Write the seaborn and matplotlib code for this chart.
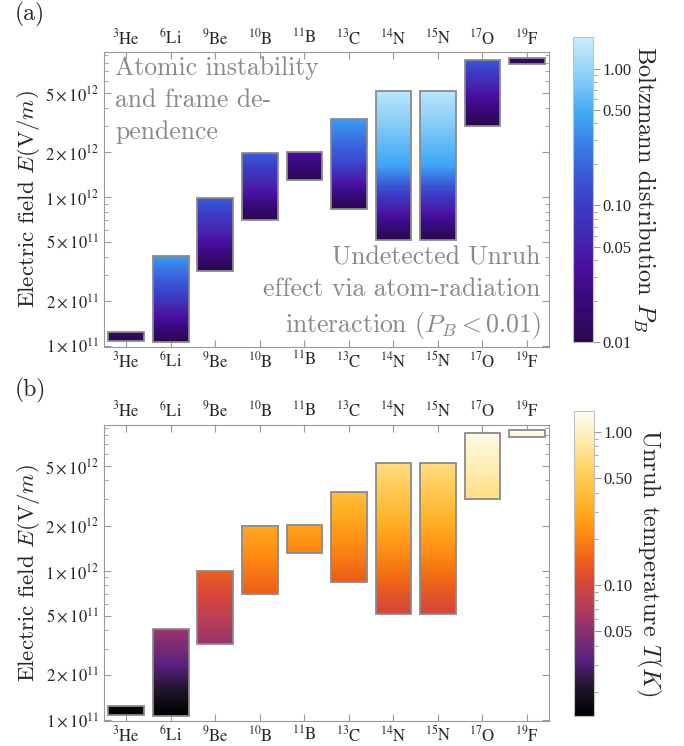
#!/usr/bin/env python3
import numpy as np
import seaborn as sns
import matplotlib
matplotlib.use("Agg")
from matplotlib import pyplot as plt
from matplotlib.colors import LinearSegmentedColormap, LogNorm
from matplotlib.cm import ScalarMappable
from matplotlib.ticker import FixedLocator, LogLocator, NullFormatter

# isotopes along x
isotopes = [r"$^{3}\mathrm{He}$", r"$^{6}\mathrm{Li}$", r"$^{9}\mathrm{Be}$", r"$^{10}\mathrm{B}$",
            r"$^{11}\mathrm{B}$", r"$^{13}\mathrm{C}$", r"$^{14}\mathrm{N}$", r"$^{15}\mathrm{N}$",
            r"$^{17}\mathrm{O}$", r"$^{19}\mathrm{F}$"]

# electric field window (V/m), bottom and top of each bar
e_low = [1.09e11, 1.07e11, 3.22e11, 7.0e11, 1.31e12, 8.4e11, 5.15e11, 5.15e11, 3.0e12, 7.8e12]
e_high = [1.25e11, 4.06e11, 9.9e11, 1.98e12, 2.02e12, 3.37e12, 5.2e12, 5.2e12, 8.3e12, 8.66e12]

# Boltzmann distribution P_B at bottom, middle and top of each bar
pb_low = [0.010, 0.010, 0.010, 0.010, 0.010, 0.010, 0.010, 0.010, 0.010, 0.011]
pb_mid = [0.012, 0.09, 0.05, 0.05, 0.019, 0.12, 0.45, 0.45, 0.04, 0.013]
pb_high = [0.014, 0.40, 0.17, 0.17, 0.035, 0.40, 1.40, 1.40, 0.16, 0.016]

# Unruh temperature T (K) at bottom and top of each bar
t_low = [0.0142, 0.014, 0.055, 0.14, 0.20, 0.14, 0.10, 0.10, 0.69, 1.15]
t_high = [0.016, 0.058, 0.14, 0.30, 0.28, 0.40, 0.68, 0.68, 1.25, 1.30]

y_ticks = [1e11, 2e11, 5e11, 1e12, 2e12, 5e12]
y_tick_labels = [r"$1\times10^{11}$", r"$2\times10^{11}$", r"$5\times10^{11}$",
                 r"$1\times10^{12}$", r"$2\times10^{12}$", r"$5\times10^{12}$"]

GRAY = "#999999"

deep_sea = LinearSegmentedColormap.from_list("deep", [
    (0.0, "#2a0850"), (0.15, "#3a0a80"), (0.25, "#4a10a0"), (0.35, "#4428b0"),
    (0.45, "#3c3cc8"), (0.55, "#3a5ad8"), (0.65, "#3a80e8"), (0.75, "#40a8f5"),
    (0.88, "#90d0f8"), (1.0, "#cdeeff")])
sunset = LinearSegmentedColormap.from_list("sunset", [
    (0.0, "#000000"), (0.1, "#241630"), (0.18, "#5a2080"), (0.28, "#8a3070"),
    (0.36, "#b83e58"), (0.44, "#d84838"), (0.52, "#f06414"), (0.6, "#ff8c14"),
    (0.68, "#ffae22"), (0.8, "#ffd060"), (0.9, "#ffeaa8"), (1.0, "#fffdf6")])


def log_interp(a, b, f):
    return np.exp(np.log(a) + (np.log(b) - np.log(a)) * f)


def draw_panel(fig, ax, cax, values, cmap, norm, cbar_ticks, cbar_label, cbar_pad):
    heights = [h - l for l, h in zip(e_low, e_high)]
    sns.barplot(x=isotopes, y=heights, bottom=e_low, order=isotopes, fill=False,
                color="#8a8a8a", linewidth=1.3, width=0.8, zorder=3, ax=ax)
    ax.set_yscale("log")

    for i in range(len(isotopes)):
        ys = np.geomspace(e_low[i], e_high[i], 90)
        frac = np.linspace(0, 1, len(ys) - 1)
        ax.pcolormesh([i - 0.4, i + 0.4], ys, values(i, frac)[:, None],
                      cmap=cmap, norm=norm, shading="flat", zorder=1)

    ax.set_xlim(-0.5, len(isotopes) - 0.5)
    ax.set_ylim(0.99e11, 9.4e12)
    ax.set_xlabel("")
    ax.yaxis.set_major_locator(FixedLocator(y_ticks))
    ax.set_yticklabels(y_tick_labels)
    ax.yaxis.set_minor_locator(LogLocator(base=10, subs=np.arange(2, 10)))
    ax.yaxis.set_minor_formatter(NullFormatter())
    ax.tick_params(axis="both", which="both", direction="in", color=GRAY,
                   top=True, right=True, labeltop=True, labelsize=12)
    ax.tick_params(axis="both", which="major", length=5)
    ax.tick_params(axis="y", which="minor", length=3)
    ax.tick_params(axis="x", pad=3)
    for spine in ax.spines.values():
        spine.set_visible(True)
        spine.set_color(GRAY)
    ax.set_ylabel(r"Electric field $E(\mathrm{V}/m)$", fontsize=16.5, fontfamily="cmr10",
                  math_fontfamily="cm", labelpad=2)

    cbar = fig.colorbar(ScalarMappable(norm=norm, cmap=cmap), cax=cax)
    cbar.set_ticks(cbar_ticks)
    cbar.set_ticklabels([f"{t:.2f}" for t in cbar_ticks])
    cbar.ax.yaxis.set_minor_locator(LogLocator(base=10, subs=np.arange(2, 10)))
    cbar.ax.yaxis.set_minor_formatter(NullFormatter())
    cbar.ax.tick_params(which="both", color=GRAY, labelsize=12, pad=2)
    cbar.ax.tick_params(which="major", length=5)
    cbar.ax.tick_params(which="minor", length=3)
    cbar.outline.set_edgecolor("#c0c0c0")
    cbar.set_label(cbar_label, rotation=270, fontsize=17.5, fontfamily="cmr10",
                   math_fontfamily="cm", labelpad=cbar_pad)


def main():
    sns.set_style("ticks")
    plt.rcParams["font.family"] = ["Liberation Serif", "DejaVu Serif"]
    plt.rcParams["mathtext.fontset"] = "stix"

    fig = plt.figure(figsize=(6.84, 7.46), dpi=100)
    ax_a = fig.add_axes([0.152, 0.535, 0.651, 0.395])
    cax_a = fig.add_axes([0.838, 0.5416, 0.029, 0.409])
    ax_b = fig.add_axes([0.152, 0.0335, 0.651, 0.397])
    cax_b = fig.add_axes([0.839, 0.0406, 0.029, 0.409])

    def pb_values(i, f):
        return np.where(f < 0.5, log_interp(pb_low[i], pb_mid[i], f * 2),
                        log_interp(pb_mid[i], pb_high[i], f * 2 - 1))

    def t_values(i, f):
        return log_interp(t_low[i], t_high[i], f)

    draw_panel(fig, ax_a, cax_a, pb_values, deep_sea, LogNorm(0.01, 1.72),
               [0.01, 0.05, 0.1, 0.5, 1.0], r"Boltzmann distribution $P_B$", 18)
    draw_panel(fig, ax_b, cax_b, t_values, sunset, LogNorm(0.014, 1.37),
               [0.05, 0.1, 0.5, 1.0], r"Unruh temperature $T(K)$", 22)

    ax_a.text(0.025, 0.985, "Atomic instability\nand frame de-\npendence", transform=ax_a.transAxes,
              ha="left", va="top", fontsize=18.5, fontfamily="cmr10", color="#888888", linespacing=1.42)
    ax_a.text(0.98, 0.02, "Undetected Unruh\neffect via atom-radiation\ninteraction ($P_B < 0.01$)",
              transform=ax_a.transAxes, ha="right", va="bottom", fontsize=18.5, fontfamily="cmr10",
              math_fontfamily="cm", color="#888888", linespacing=1.42)

    fig.text(0.022, 0.98, "(a)", fontsize=17, fontfamily="cmr10", va="center", ha="left")
    fig.text(0.022, 0.477, "(b)", fontsize=17, fontfamily="cmr10", va="center", ha="left")

    fig.savefig("out.png", dpi=100)
    plt.close(fig)


if __name__ == '__main__':
    main()
